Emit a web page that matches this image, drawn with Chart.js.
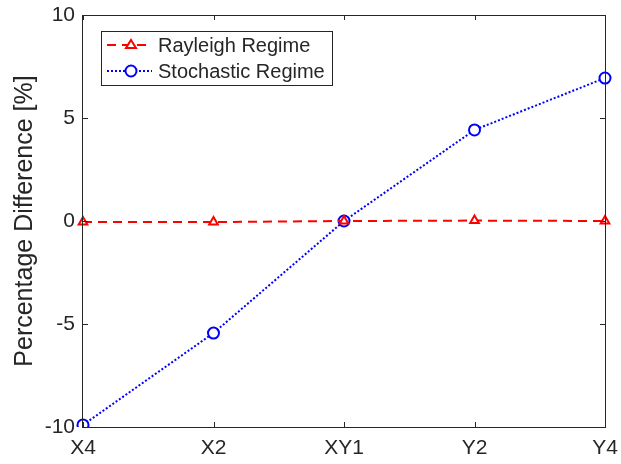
<!DOCTYPE html>
<html>
<head>
<meta charset="utf-8">
<script src="https://cdn.jsdelivr.net/npm/chart.js@4"></script>
<style>
  html, body { margin: 0; padding: 0; background: #fff; }
  #wrap { width: 621px; height: 464px; }
</style>
</head>
<body>
<div id="wrap"><canvas id="chart" width="621" height="464"></canvas></div>
<script>
const categories = ['X4', 'X2', 'XY1', 'Y2', 'Y4'];
const rayleigh = [-0.05, -0.05, 0, 0.02, 0];
const stochastic = [-9.9, -5.44, 0, 4.42, 6.94];
const yTicks = [-10, -5, 0, 5, 10];

const axisColor = '#262626';
const fontFamily = "'Liberation Sans', Arial, sans-serif";

// box + inward ticks, matlab style
const frame = {
    id: 'frame',
    afterDatasetsDraw(chart) {
        const {ctx, chartArea: a, scales} = chart;
        ctx.save();
        ctx.strokeStyle = axisColor;
        ctx.lineWidth = 1;
        ctx.strokeRect(a.left - 0.5, a.top + 0.5, a.right - a.left + 1, a.bottom - a.top);
        ctx.beginPath();
        categories.forEach(function (c, i) {
            let x = Math.round(scales.x.getPixelForValue(i)) + 0.5;
            ctx.moveTo(x, a.bottom); ctx.lineTo(x, a.bottom - 5);
            ctx.moveTo(x, a.top); ctx.lineTo(x, a.top + 5);
        });
        yTicks.forEach(function (v) {
            let y = Math.round(scales.y.getPixelForValue(v)) + 0.5;
            ctx.moveTo(a.left, y); ctx.lineTo(a.left + 5, y);
            ctx.moveTo(a.right, y); ctx.lineTo(a.right - 5, y);
        });
        ctx.stroke();
        ctx.restore();
    }
};

// legend box inside the axes
const innerLegend = {
    id: 'innerLegend',
    afterDraw(chart) {
        const {ctx, chartArea: a} = chart;
        const x0 = a.left + 18, y0 = a.top + 16, w = 231, h = 54;
        ctx.save();
        ctx.fillStyle = '#fff';
        ctx.fillRect(x0, y0, w, h);
        ctx.strokeStyle = axisColor;
        ctx.lineWidth = 1;
        ctx.strokeRect(x0 + 0.5, y0 + 0.5, w, h);
        chart.data.datasets.forEach(function (ds, i) {
            let y = y0 + 14 + i * 26;
            ctx.strokeStyle = ds.borderColor;
            ctx.lineWidth = 2;
            ctx.setLineDash(ds.borderDash);
            ctx.beginPath();
            ctx.moveTo(x0 + 6, y); ctx.lineTo(x0 + 51, y);
            ctx.stroke();
            ctx.setLineDash([]);
            ctx.fillStyle = '#fff';
            ctx.beginPath();
            if (ds.pointStyle === 'triangle') {
                let r = ds.pointRadius;
                ctx.moveTo(x0 + 30, y - r);
                ctx.lineTo(x0 + 30 + r, y + r * 0.6);
                ctx.lineTo(x0 + 30 - r, y + r * 0.6);
                ctx.closePath();
            } else {
                ctx.arc(x0 + 30, y, ds.pointRadius, 0, Math.PI * 2);
            }
            ctx.fill();
            ctx.stroke();
            ctx.fillStyle = axisColor;
            ctx.font = '20px ' + fontFamily;
            ctx.textBaseline = 'middle';
            ctx.fillText(ds.label, x0 + 57, y + 1);
        });
        ctx.restore();
    }
};

new Chart(document.getElementById('chart'), {
    type: 'line',
    data: {
        labels: categories,
        datasets: [{
            label: 'Rayleigh Regime',
            data: rayleigh,
            borderColor: '#ff0000',
            backgroundColor: '#ffffff',
            borderWidth: 2,
            borderDash: [9, 6],
            pointStyle: 'triangle',
            pointRadius: 5,
            pointBorderWidth: 2,
            tension: 0
        }, {
            label: 'Stochastic Regime',
            data: stochastic,
            borderColor: '#0000ff',
            backgroundColor: '#ffffff',
            borderWidth: 2,
            borderDash: [2, 2],
            pointStyle: 'circle',
            pointRadius: 5.5,
            pointBorderWidth: 2,
            tension: 0
        }]
    },
    options: {
        responsive: false,
        animation: false,
        layout: {padding: {top: 15, right: 16, left: 0, bottom: 0}},
        plugins: {
            legend: {display: false},
            tooltip: {enabled: false}
        },
        scales: {
            x: {
                type: 'category',
                offset: false,
                grid: {display: false, drawTicks: false},
                border: {display: false},
                ticks: {color: axisColor, padding: 9, maxRotation: 0, font: {family: fontFamily, size: 21}},
                afterFit: function (s) { s.height = 37; s.paddingLeft = 0; s.paddingRight = 0; }
            },
            y: {
                min: -10,
                max: 10,
                grid: {display: false, drawTicks: false},
                border: {display: false},
                afterBuildTicks: function (s) { s.ticks = yTicks.map(v => ({value: v})); },
                ticks: {color: axisColor, padding: 8, font: {family: fontFamily, size: 21}},
                title: {display: true, text: 'Percentage Difference [%]', color: axisColor, padding: {top: 10, bottom: 0}, font: {family: fontFamily, size: 25}},
                afterFit: function (s) { s.width = 83; s.paddingTop = 0; s.paddingBottom = 0; }
            }
        }
    },
    plugins: [frame, innerLegend]
});
</script>
</body>
</html>
